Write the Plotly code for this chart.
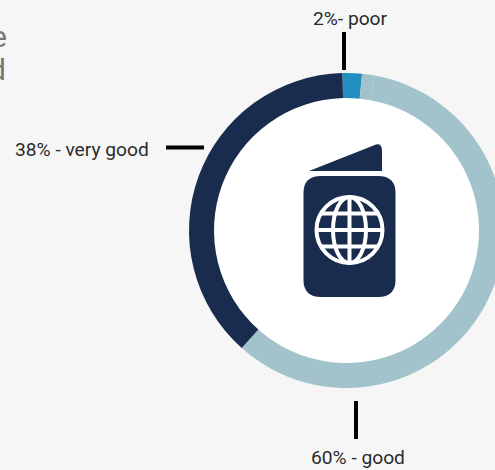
import plotly.graph_objects as go

# Survey shares, clockwise from the top of the ring
ratings = ["poor", "good", "good (rest)", "very good"]
shares = [2, 1.3, 58.7, 38]
ring_colors = ["#218fbf", "#a2c3cc", "#a2c3cc", "#1a2c4e"]

callouts = ["2%- poor", "38% - very good", "60% - good"]

PAGE_W, PAGE_H = 512, 470
CX, CY, R_OUT = 346.5, 230.5, 157.5
R_IN = 132.5
NAVY = "#1a2c4e"

fig = go.Figure()

fig.add_trace(go.Pie(
    labels=ratings,
    values=shares,
    sort=False,
    direction="clockwise",
    rotation=-1.5,
    hole=R_IN / R_OUT,
    marker=dict(colors=ring_colors, line=dict(width=0)),
    textinfo="none",
    hoverinfo="label+value",
    showlegend=False,
    domain=dict(
        x=[(CX - R_OUT) / PAGE_W, (CX + R_OUT) / PAGE_W],
        y=[(PAGE_H - CY - R_OUT) / PAGE_H, (PAGE_H - CY + R_OUT) / PAGE_H],
    ),
))


def disc(x, y, rx, ry=None, **kw):
    ry = rx if ry is None else ry
    return dict(type="circle", xref="x", yref="y", x0=x - rx, x1=x + rx,
                y0=y - ry, y1=y + ry, **kw)


def stroke(x0, y0, x1, y1, width=4, color="black"):
    return dict(type="line", xref="x", yref="y", x0=x0, y0=y0, x1=x1, y1=y1,
                line=dict(color=color, width=width))


def path(d, **kw):
    return dict(type="path", xref="x", yref="y", path=d, **kw)


shapes = [
    # White centre of the ring
    disc(CX, CY, R_IN + 0.5, fillcolor="white", line_width=0, layer="below"),
    # Callout rules
    stroke(344, 32, 344, 70),
    stroke(166, 147.5, 204, 147.5),
    stroke(356, 401, 356, 439),
    # Passport cover
    path("M 321 176 L 378 176 Q 395.5 176 395.5 193 L 395.5 280 "
         "Q 395.5 297 378 297 L 321 297 Q 303.5 297 303.5 280 L 303.5 193 "
         "Q 303.5 176 321 176 Z", fillcolor=NAVY, line_width=0),
    # Passport flap
    path("M 309 171 L 376 144.5 Q 381.5 143 382 150 L 382 171 Z",
         fillcolor=NAVY, line_width=0),
]

# Globe on the cover
GX, GY, GR = 349.5, 230, 33
GLOBE_LW = 4
white = dict(color="white", width=GLOBE_LW)
shapes += [
    disc(GX, GY, GR, line=white),
    disc(GX, GY, 16.5, GR, line=white),
    stroke(GX, GY - GR, GX, GY + GR, GLOBE_LW, "white"),
    stroke(GX - GR, GY, GX + GR, GY, GLOBE_LW, "white"),
    stroke(GX - 28.5, GY - 16.5, GX + 28.5, GY - 16.5, GLOBE_LW, "white"),
    stroke(GX - 28.5, GY + 16.5, GX + 28.5, GY + 16.5, GLOBE_LW, "white"),
]


def note(text, x, y, anchor="center", size=19.2, color="#2b2b2b"):
    return dict(text=text, x=x, y=y, xref="x", yref="y", xanchor=anchor,
                yanchor="middle", showarrow=False,
                font=dict(family="Roboto", size=size, color=color))


annotations = [
    note(callouts[0], 350.5, 18.5),
    note(callouts[1], 82, 149.5),
    note(callouts[2], 358, 457.5),
    # Ends of a heading that runs in from the left of the page
    note("e", 9, 36, anchor="right", size=30, color="#777777"),
    note("d", 8, 69, anchor="right", size=30, color="#777777"),
]

fig.update_layout(
    width=PAGE_W,
    height=PAGE_H,
    margin=dict(l=0, r=0, t=0, b=0),
    paper_bgcolor="#f6f6f6",
    plot_bgcolor="rgba(0,0,0,0)",
    xaxis=dict(range=[0, PAGE_W], visible=False, fixedrange=True),
    yaxis=dict(range=[PAGE_H, 0], visible=False, fixedrange=True),
    shapes=shapes,
    annotations=annotations,
)

# Ring runs past the right edge of the page; hide the scrollbars it would cause
fig.write_html(
    "out.html",
    config=dict(displayModeBar=False),
    post_script="document.documentElement.style.overflow='hidden';"
                "document.body.style.overflow='hidden';"
                "document.body.style.margin='0';",
)
